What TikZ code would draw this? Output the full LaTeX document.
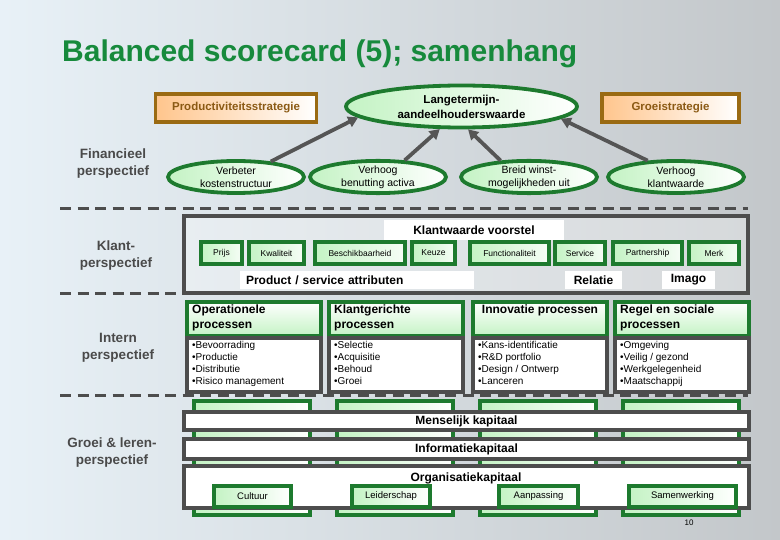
\documentclass[tikz,border=0pt]{standalone}
\usepackage{fontspec}
\setmainfont{Liberation Sans}
\usetikzlibrary{shapes.geometric,arrows.meta}
\definecolor{titlegreen}{HTML}{178A3C}
\definecolor{gdark}{HTML}{1D7A2E}
\definecolor{glight}{HTML}{C4F3C4}
\definecolor{stratbrown}{HTML}{9A6A12}
\definecolor{strattext}{HTML}{8B5A14}
\definecolor{stratorange}{HTML}{FFC58C}
\definecolor{dgray}{HTML}{4D4D4D}
\definecolor{agray}{HTML}{555555}
\definecolor{lblgray}{HTML}{4A4A4A}
\definecolor{bgL}{HTML}{E8F1F7}
\definecolor{bgR}{HTML}{C3C7CA}
\begin{document}
\begin{tikzpicture}[x=1pt,y=-1pt,
 lbl/.style={font=\fontsize{13.5}{17}\selectfont\bfseries, text=lblgray, align=center},
 strat/.style={draw=stratbrown, line width=3.8pt, left color=stratorange, right color=white, text=strattext, font=\fontsize{11.5}{14}\selectfont\bfseries, minimum height=28pt, inner sep=0pt},
 bigell/.style={ellipse, draw=gdark, line width=3.8pt, left color=glight, right color=white, align=center, font=\fontsize{11.5}{15}\selectfont\bfseries, inner sep=0pt},
 smell/.style={ellipse, draw=gdark, line width=3.8pt, left color=glight, right color=white, align=center, font=\fontsize{10.5}{13}\selectfont, minimum width=136pt, minimum height=32pt, inner sep=0pt},
 arr/.style={draw=agray, line width=3.8pt, -{Triangle[length=10pt,width=11pt]}},
 sepline/.style={draw=dgray, line width=3pt, dash pattern=on 11pt off 6.5pt},
 klantbox/.style={draw=dgray, line width=3.8pt, fill=white, fill opacity=0.3, inner sep=0pt},
 wlab/.style={fill=white, inner sep=0pt, font=\fontsize{12}{14}\selectfont\bfseries},
 attr/.style={draw=gdark, line width=3.8pt, left color=glight, right color=white!85!glight, font=\fontsize{8.5}{10}\selectfont, minimum height=22pt, inner sep=0pt},
 hdr/.style={draw=gdark, line width=3.8pt, top color=white, bottom color=glight, minimum width=134pt, minimum height=34pt, inner sep=0pt},
 lst/.style={draw=dgray, line width=3.8pt, fill=white, minimum width=134pt, minimum height=54pt, inner sep=0pt},
 hdrtext/.style={font=\fontsize{12}{15}\selectfont\bfseries, align=left, inner sep=0pt},
 lsttext/.style={font=\fontsize{10}{12}\selectfont, align=left, inner sep=0pt},
 gcol/.style={draw=gdark, line width=3.8pt, left color=glight, right color=white, minimum width=116pt, minimum height=114pt, inner sep=0pt},
 bar/.style={draw=dgray, line width=3.8pt, fill=white, minimum width=565pt, inner sep=0pt, font=\fontsize{12}{14}\selectfont\bfseries},
 obox/.style={draw=gdark, line width=3.8pt, left color=glight, right color=white, minimum height=21pt, inner sep=0pt, font=\fontsize{9.5}{11}\selectfont}
]
\useasboundingbox (0,0) rectangle (780,540);
\fill[left color=bgL, right color=bgR] (0,0) rectangle (780,540);

% title
\node[anchor=west, inner sep=0pt, font=\fontsize{30}{34}\selectfont\bfseries, text=titlegreen] (title) at (62,54) {Balanced scorecard (5); samenhang};

% financial perspective
\node[strat, minimum width=161pt] (prod) at (236,108) {Productiviteitsstrategie};
\node[strat, minimum width=137pt] (groei) at (670.5,108) {Groeistrategie};
\node[bigell, minimum width=231pt, minimum height=42pt] (lt) at (461.5,106.5) {Langetermijn-\\aandeelhouderswaarde};
\node[lbl] (fin) at (113,164) {Financieel\\perspectief};
\node[smell] (e1) at (236,177) {Verbeter\\kostenstructuur};
\node[smell] (e2) at (378,177) {Verhoog\\benutting activa};
\node[smell] (e3) at (529,177) {Breid winst-\\mogelijkheden uit};
\node[smell] (e4) at (676,177) {Verhoog\\klantwaarde};
\draw[arr] (e1.24) -- (lt.186);
\draw[arr] (e2.32) -- (lt.226);
\draw[arr] (e3.150) -- (lt.286);
\draw[arr] (e4.150) -- (lt.353);

% customer perspective
\node[lbl] (klant) at (116,256) {Klant-\\perspectief};
\node[klantbox, minimum width=564pt, minimum height=77pt] (kv) at (466,254.5) {};
\node[wlab, minimum width=180pt, minimum height=20pt] (kvt) at (474,230) {Klantwaarde voorstel};
\node[attr, minimum width=41pt] (a1) at (221.5,253) {Prijs};
\node[attr, minimum width=55pt] (a2) at (276.5,253) {Kwaliteit};
\node[attr, minimum width=90pt] (a3) at (360,253) {Beschikbaarheid};
\node[attr, minimum width=43pt] (a4) at (433.5,253) {Keuze};
\node[attr, minimum width=79pt] (a5) at (509.5,253) {Functionaliteit};
\node[attr, minimum width=50pt] (a6) at (580,253) {Service};
\node[attr, minimum width=69pt] (a7) at (647.5,253) {Partnership};
\node[attr, minimum width=50pt] (a8) at (714,253) {Merk};
\node[wlab, text width=222pt, inner xsep=6pt, align=left, minimum height=18pt] (psa) at (357,280) {Product / service attributen};
\node[wlab, minimum width=57pt, minimum height=18pt] (rel) at (593.5,280) {Relatie};
\node[wlab, minimum width=53pt, minimum height=18pt] (ima) at (688.5,280) {Imago};

% internal perspective
\node[lbl] (intern) at (118,348) {Intern\\perspectief};
\foreach \n/\cx in {1/254,2/396,3/540,4/682}{
  \node[hdr] (h\n) at (\cx,319) {};
  \node[lst] (l\n) at (\cx,365) {};
}
\node[hdrtext, anchor=north west] (h1t) at (192,305) {Operationele\\processen};
\node[hdrtext, anchor=north west] (h2t) at (334,305) {Klantgerichte\\processen};
\node[hdrtext, anchor=north] (h3t) at (540,305) {Innovatie processen};
\node[hdrtext, anchor=north west] (h4t) at (620,305) {Regel en sociale\\processen};
\node[lsttext, anchor=north west] (l1t) at (192,341) {•Bevoorrading\\•Productie\\•Distributie\\•Risico management};
\node[lsttext, anchor=north west] (l2t) at (334,341) {•Selectie\\•Acquisitie\\•Behoud\\•Groei};
\node[lsttext, anchor=north west] (l3t) at (478,341) {•Kans-identificatie\\•R\&D portfolio\\•Design / Ontwerp\\•Lanceren};
\node[lsttext, anchor=north west] (l4t) at (620,341) {•Omgeving\\•Veilig / gezond\\•Werkgelegenheid\\•Maatschappij};

% learning & growth
\node[lbl] (groeil) at (112,453) {Groei \& leren-\\perspectief};
\node[gcol] (c1) at (252,458) {};
\node[gcol] (c2) at (395,458) {};
\node[gcol] (c3) at (538,458) {};
\node[gcol] (c4) at (681,458) {};
\node[bar, minimum height=18pt] (mk) at (466.5,421) {Menselijk kapitaal};
\node[bar, minimum height=20pt] (ik) at (466.5,449) {Informatiekapitaal};
\node[bar, minimum height=42pt] (ok) at (466.5,487) {};
\node[font=\fontsize{12}{14}\selectfont\bfseries, inner sep=0pt] (okt) at (466,478) {Organisatiekapitaal};
\node[obox, minimum width=77pt] (o1) at (252.5,496.5) {Cultuur};
\node[obox, minimum width=78pt] (o2) at (391,496.5) {Leiderschap};
\node[obox, minimum width=79pt] (o3) at (538.5,496.5) {Aanpassing};
\node[obox, minimum width=107pt] (o4) at (682.5,496.5) {Samenwerking};
\node[font=\fontsize{8}{10}\selectfont, inner sep=0pt] (pg) at (689,523) {10};

% separators
\coordinate (s1a) at (60,209); \coordinate (s1b) at (748,209);
\coordinate (s2a) at (60,294); \coordinate (s2b) at (748,294);
\coordinate (s3a) at (60,395); \coordinate (s3b) at (748,395);
\draw[sepline] (s1a) -- (s1b);
\draw[sepline] (s2a) -- (s2b);
\draw[sepline] (s3a) -- (s3b);
\end{tikzpicture}
\end{document}
